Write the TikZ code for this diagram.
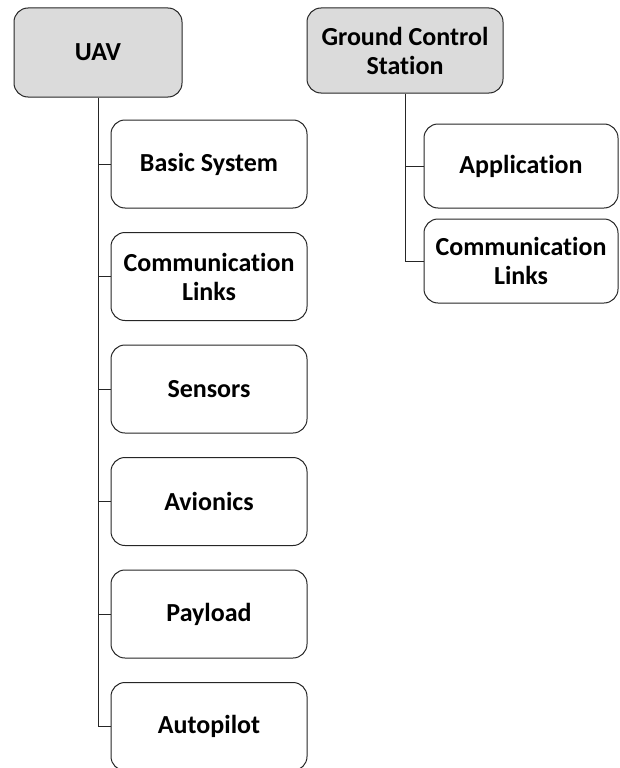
\documentclass[tikz,border=0pt]{standalone}
\usepackage{fontspec}
\setmainfont{Carlito}[Ligatures=NoCommon]
\usetikzlibrary{positioning}

\begin{document}
\begin{tikzpicture}[
    x=1pt, y=-1pt,
    font=\bfseries\fontsize{26}{29}\selectfont,
    root/.style={draw=black!85, line width=1pt, rounded corners=14pt, fill=black!14,
                 align=center, inner sep=2pt, minimum width=168pt, minimum height=89pt},
    part/.style={draw=black!85, line width=1pt, rounded corners=14pt, fill=white,
                 align=center, inner sep=2pt, minimum width=196pt, minimum height=88pt},
    gpart/.style={part, minimum width=194pt, minimum height=84pt},
    link/.style={black!85, line width=1pt},
]
\useasboundingbox (0,0) rectangle (619,768);

% UAV branch
\node[root] (uav) at (98, 52.5) {UAV};
\node[part] (basic) at (209, 164) {Basic System};
\node[part, below=23.5pt of basic] (comm) {Communication\\Links};
\node[part, below=23.5pt of comm] (sensors) {Sensors};
\node[part, below=23.5pt of sensors] (avionics) {Avionics};
\node[part, below=23.5pt of avionics] (payload) {Payload};
\node[part, below=23.5pt of payload] (autopilot) {Autopilot};

\draw[link] (uav.south) |- (autopilot.west);
\foreach \n in {basic, comm, sensors, avionics, payload}
    \draw[link] (uav.south |- \n.west) -- (\n.west);

% ground station branch
\node[root, minimum width=196pt, minimum height=85pt] (gcs) at (405, 50.5)
    {Ground Control\\Station};
\node[gpart] (app) at (521, 166) {Application};
\node[gpart, below=10pt of app] (gcomm) {Communication\\Links};

\draw[link] (gcs.south) |- (gcomm.west);
\draw[link] (gcs.south |- app.west) -- (app.west);

\end{tikzpicture}
\end{document}
